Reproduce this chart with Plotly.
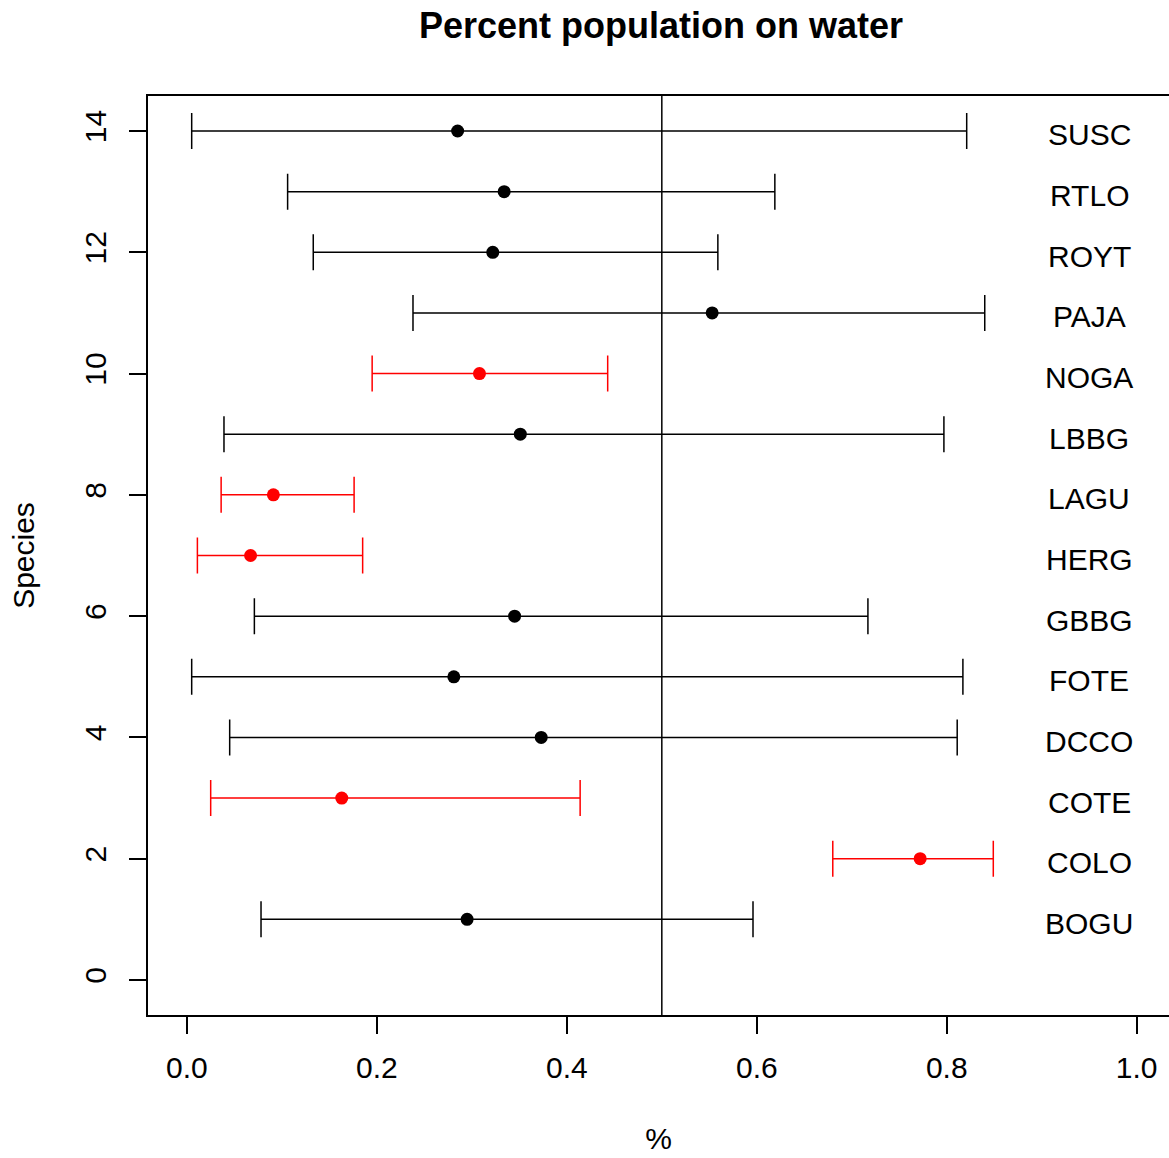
import plotly.graph_objects as go

species = ["BOGU", "COLO", "COTE", "DCCO", "FOTE", "GBBG", "HERG",
           "LAGU", "LBBG", "NOGA", "PAJA", "ROYT", "RTLO", "SUSC"]
ypos = list(range(1, 15))
est = [0.295, 0.772, 0.163, 0.373, 0.281, 0.345, 0.067,
       0.091, 0.351, 0.308, 0.553, 0.322, 0.334, 0.285]
lower = [0.078, 0.680, 0.025, 0.045, 0.005, 0.071, 0.011,
         0.036, 0.039, 0.195, 0.238, 0.133, 0.106, 0.005]
upper = [0.596, 0.849, 0.414, 0.811, 0.817, 0.717, 0.185,
         0.176, 0.797, 0.443, 0.840, 0.559, 0.619, 0.821]
highlight = [False, True, True, False, False, False, True,
             True, False, True, False, False, False, False]
xticks = [0.0, 0.2, 0.4, 0.6, 0.8, 1.0]
yticks = [0, 2, 4, 6, 8, 10, 12, 14]
label_x = 0.95

FONT = "Liberation Sans, Arial, sans-serif"
fig = go.Figure()

for flag, color in [(False, "black"), (True, "#FF0000")]:
    idx = [i for i in range(len(species)) if highlight[i] == flag]
    fig.add_trace(go.Scatter(
        x=[est[i] for i in idx],
        y=[ypos[i] for i in idx],
        mode="markers",
        marker=dict(color=color, size=13, symbol="circle"),
        error_x=dict(type="data", symmetric=False,
                     array=[upper[i] - est[i] for i in idx],
                     arrayminus=[est[i] - lower[i] for i in idx],
                     color=color, thickness=1.5, width=18),
        showlegend=False,
    ))

for name, yv in zip(species, ypos):
    fig.add_annotation(x=label_x, y=yv, xref="x", yref="y", text=name,
                       showarrow=False, xanchor="center", yanchor="middle",
                       yshift=-4,
                       font=dict(family=FONT, size=30, color="black"))

fig.add_shape(type="line", xref="x", yref="paper", x0=0.5, x1=0.5, y0=0, y1=1,
              line=dict(color="black", width=1.5))

fig.update_layout(
    width=1169, height=1158,
    margin=dict(l=148, r=0, t=96, b=143),
    plot_bgcolor="white", paper_bgcolor="white",
    font=dict(family=FONT, size=30, color="black"),
    title=dict(text="<b>Percent population on water</b>",
               font=dict(family=FONT, size=36, color="black"),
               x=0.5024, xref="paper", xanchor="center",
               y=1 - 25 / 1158, yref="container", yanchor="middle"),
    xaxis=dict(range=[-0.041, 1.034], tickvals=xticks,
               ticktext=[f"{v:.1f}" for v in xticks],
               ticks="outside", ticklen=17, tickwidth=1.5, tickcolor="black",
               ticklabelstandoff=8,
               showline=True, linecolor="black", linewidth=1.5, mirror=True,
               showgrid=False, zeroline=False,
               title=dict(text="%", standoff=45, font=dict(size=30)),
               tickfont=dict(size=30)),
    yaxis=dict(range=[-0.577, 14.577], tickvals=yticks,
               ticktext=[str(v) for v in yticks],
               ticks="outside", ticklen=17, tickwidth=1.5, tickcolor="black",
               tickangle=-90, ticklabelstandoff=11,
               showline=True, linecolor="black", linewidth=1.5, mirror=False,
               showgrid=False, zeroline=False,
               title=dict(text="Species", standoff=36, font=dict(size=30)),
               tickfont=dict(size=30)),
)

fig.write_html("out.html")
